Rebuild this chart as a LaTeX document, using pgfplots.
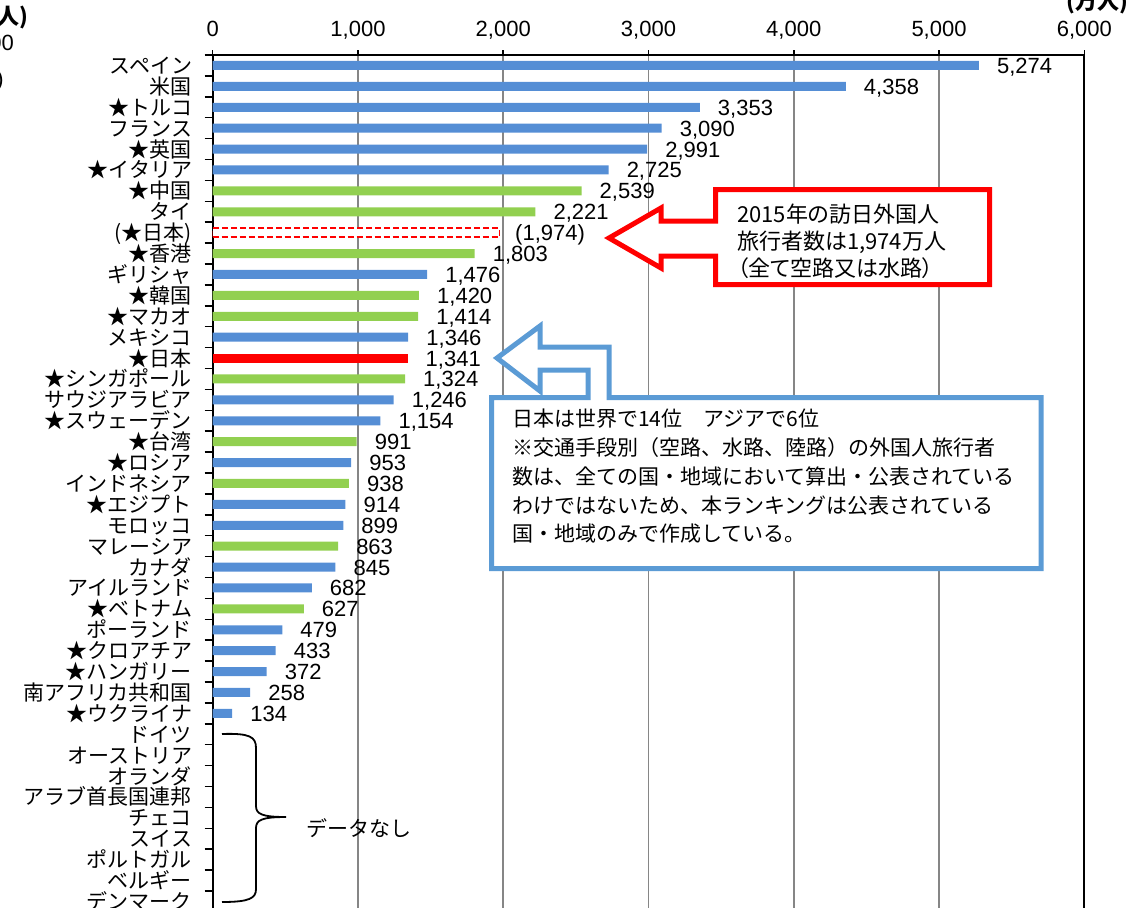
\documentclass[border=0pt]{standalone}
\usepackage{fontspec}
\setmainfont{Liberation Sans}
\newfontfamily\jp{Noto Sans CJK JP}
\newfontfamily\jpp{Noto Sans CJK JP}[RawFeature=+palt]
\usepackage{pgfplots}
\usepackage{pgfplotstable}
\pgfplotsset{compat=1.18}

\definecolor{barblue}{RGB}{85,142,213}
\definecolor{bargreen}{RGB}{146,208,80}
\definecolor{callblue}{RGB}{91,155,213}
\definecolor{gridgray}{RGB}{134,134,134}

% row position (1 = top) and visitors (10,000 persons)
\pgfplotstableread{
pos val
1  5274
2  4358
3  3353
4  3090
5  2991
6  2725
11 1476
14 1346
17 1246
18 1154
20 953
22 914
23 899
25 845
26 682
28 479
29 433
30 372
31 258
32 134
}\bluedata
\pgfplotstableread{
pos val
7  2539
8  2221
10 1803
12 1420
13 1414
16 1324
19 991
21 938
24 863
27 627
}\greendata
\pgfplotstableread{
pos val
15 1341
}\japandata
\pgfplotstableread{
pos val
9 1974
}\japantotal

\begin{document}
\begin{tikzpicture}
\path[use as bounding box] (0pt,0pt) rectangle (1131pt,-907pt);
\clip (0pt,0pt) rectangle (1131pt,-907pt);

\begin{axis}[
  at={(212.7pt,-55pt)}, anchor=north west,
  scale only axis, width=871.6pt, height=856.9pt,
  xbar, bar width=9pt, bar shift=0pt,
  point meta=x,
  xmin=0, xmax=6000, ymin=0.5, ymax=41.5, y dir=reverse,
  xtick={0,1000,...,6000},
  xtick pos=right, xticklabel pos=right,
  ytick pos=left,
  ytick={1,...,41},
  minor ytick={0.5,1.5,...,41.5},
  yticklabels={スペイン,米国,★トルコ,フランス,★英国,★イタリア,★中国,タイ,(★日本),★香港,ギリシャ,★韓国,★マカオ,メキシコ,★日本,★シンガポール,サウジアラビア,★スウェーデン,★台湾,★ロシア,インドネシア,★エジプト,モロッコ,マレーシア,カナダ,アイルランド,★ベトナム,ポーランド,★クロアチア,★ハンガリー,南アフリカ共和国,★ウクライナ,ドイツ,オーストリア,オランダ,アラブ首長国連邦,チェコ,スイス,ポルトガル,ベルギー,デンマーク},
  tick align=outside,
  major tick length=5pt, minor tick length=8pt,
  major y tick style={draw=none},
  x tick style={black, line width=1.5pt},
  minor y tick style={black, line width=1.5pt},
  xmajorgrids,
  major x grid style={gridgray, line width=1.5pt},
  axis line style={black, line width=2pt},
  xticklabel style={font=\fontsize{22}{22}\selectfont, anchor=base, inner sep=0pt, yshift=13.6pt},
  yticklabel style={font=\jp\fontsize{21}{21}\selectfont, anchor=base east, inner sep=0pt, xshift=-15.5pt, yshift=-8pt},
  nodes near coords,
  every node near coord/.append style={font=\fontsize{22}{22}\selectfont, text=black, anchor=base west, inner sep=0pt, xshift=18pt, yshift=-8pt},
  /pgf/number format/1000 sep={,},
  /pgf/number format/assume math mode=true,
]
\addplot[xbar, bar shift=0pt, fill=barblue, draw=none] table[x=val, y=pos] {\bluedata};
\addplot[xbar, bar shift=0pt, fill=bargreen, draw=none] table[x=val, y=pos] {\greendata};
\addplot[xbar, bar shift=0pt, fill=red, draw=none] table[x=val, y=pos] {\japandata};
\addplot[xbar, bar shift=0pt, fill=white, draw=red, line width=1.5pt, dash pattern=on 6pt off 3pt,
  nodes near coords={(\pgfmathprintnumber{\pgfplotspointmeta})},
  every node near coord/.append style={xshift=-3pt}] table[x=val, y=pos] {\japantotal};
\end{axis}

\begin{scope}[x=1pt, y=-1pt]
  % unit captions
  \node[font=\jp\bfseries\fontsize{22}{22}\selectfont, anchor=base east, inner sep=0pt] at (1128,10) {(万人)};
  \node[font=\jp\bfseries\fontsize{22}{22}\selectfont, anchor=base east, inner sep=0pt] at (29,25) {(万人)};
  \node[font=\fontsize{22}{22}\selectfont, anchor=base east, inner sep=0pt] at (14,50) {6,000};
  \node[font=\fontsize{22}{22}\selectfont, anchor=base east, inner sep=0pt] at (4,86) {)};

  % callout: total visitors to Japan in 2015
  \draw[red, line width=5pt, fill=white, line join=miter]
    (715.5,189.5) -- (989.5,189.5) -- (989.5,284.5) -- (715.5,284.5) -- (715.5,256)
    -- (661,256) -- (661,268) -- (609,238) -- (661,208) -- (661,221) -- (715.5,221) -- cycle;
  \begin{scope}[every node/.style={font=\jpp\fontsize{22}{22}\selectfont, anchor=base west, inner sep=0pt}]
    \node at (737,222) {2015年の訪日外国人};
    \node at (737,249) {旅行者数は1,974万人};
    \node at (737,276) {（全て空路又は水路）};
  \end{scope}

  % callout: ranking note
  \draw[callblue, line width=5pt, fill=white, line join=miter]
    (491.5,397.5) -- (588,397.5) -- (588,370) -- (540,370) -- (540,391) -- (497,358)
    -- (540,326) -- (540,347) -- (609,347) -- (609,397.5) -- (1041,397.5)
    -- (1041,568.5) -- (491.5,568.5) -- cycle;
  \begin{scope}[every node/.style={font=\jp\fontsize{21}{21}\selectfont, anchor=base west, inner sep=0pt}]
    \node at (512,426) {日本は世界で14位　アジアで6位};
    \node at (512,455) {※交通手段別（空路、水路、陸路）の外国人旅行者};
    \node at (512,484) {数は、全ての国・地域において算出・公表されている};
    \node at (512,513) {わけではないため、本ランキングは公表されている};
    \node at (512,541) {国・地域のみで作成している。};
  \end{scope}

  % brace for countries without data
  \draw[black, line width=1.8pt]
    (222,734) .. controls (250,733) and (256,737) .. (256,748) -- (256,806)
    .. controls (256,814) and (262,817) .. (286,817)
    .. controls (262,817) and (256,820) .. (256,828) -- (256,889)
    .. controls (256,898) and (250,902) .. (222,902);
  \node[font=\jp\fontsize{21}{21}\selectfont, anchor=base, inner sep=0pt] at (359,836) {データなし};
\end{scope}
\end{tikzpicture}
\end{document}
